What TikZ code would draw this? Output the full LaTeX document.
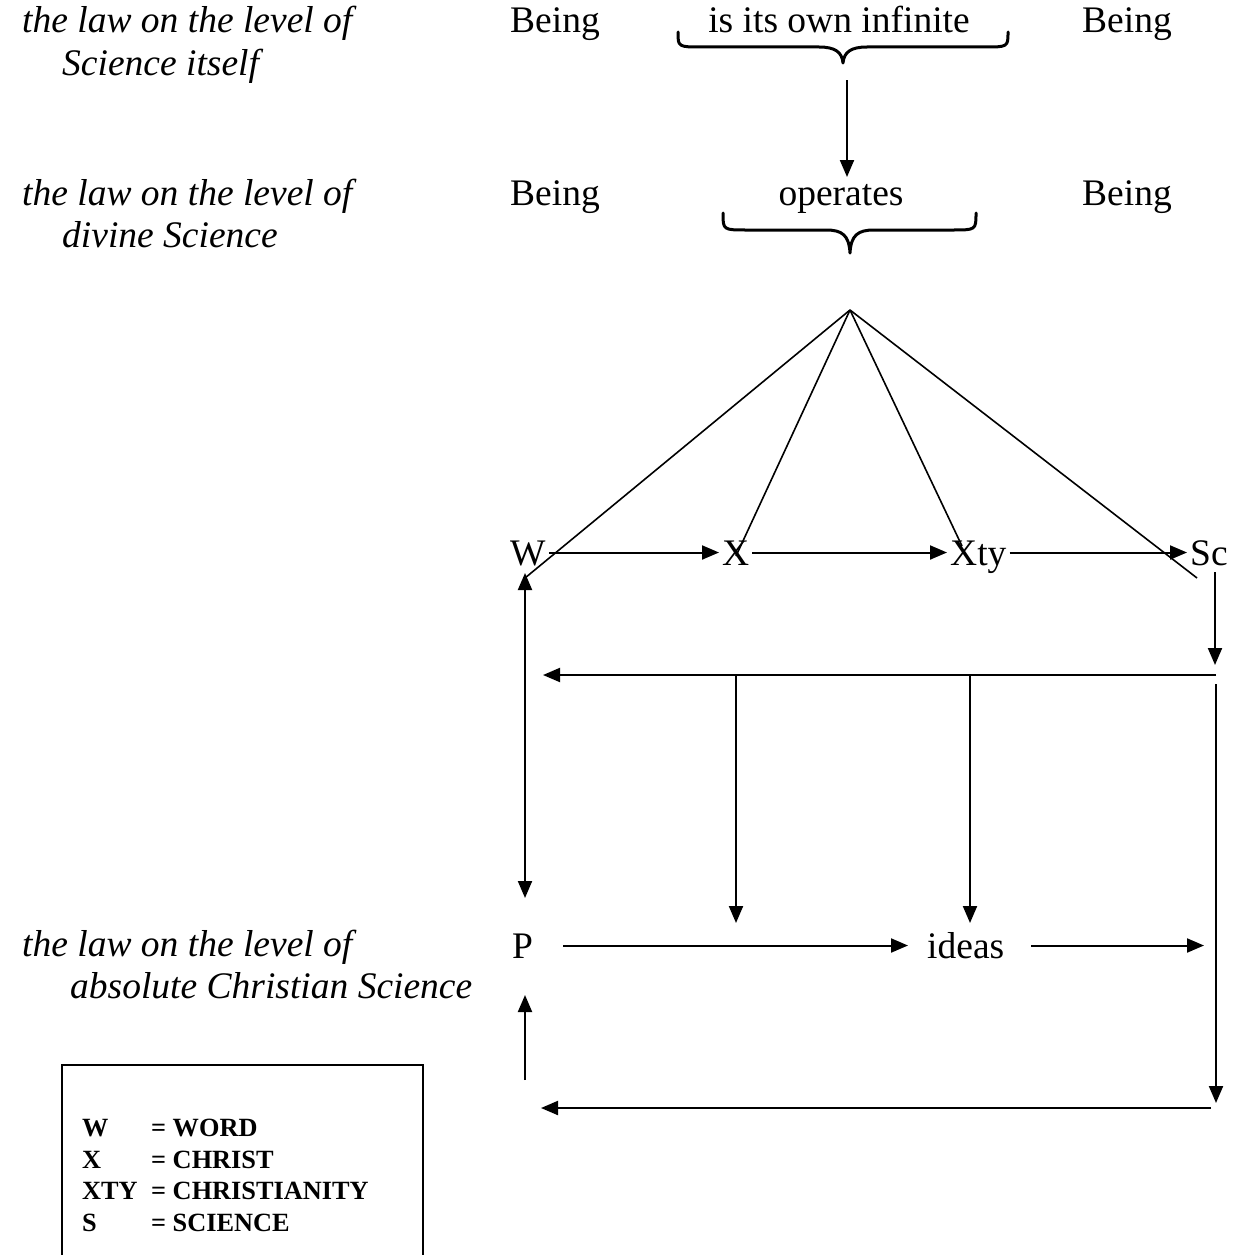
\documentclass[tikz,border=0pt]{standalone}
\usepackage{fontspec}
\setmainfont{Liberation Serif}
\usetikzlibrary{arrows.meta}
\tikzset{
  arr/.style={line width=2pt, -{Triangle[length=17pt,width=14pt]}},
  dbl/.style={line width=2pt, {Triangle[length=17pt,width=14pt]}-{Triangle[length=17pt,width=14pt]}},
  fan/.style={line width=1.6pt},
  brc/.style={line width=3pt, line join=round, line cap=round},
  txt/.style={inner sep=0pt, anchor=base west, font=\fontsize{37.5}{42}\selectfont},
  txtc/.style={inner sep=0pt, anchor=base, font=\fontsize{37.5}{42}\selectfont},
  itl/.style={inner sep=0pt, anchor=base west, font=\fontsize{37.5}{42}\selectfont\itshape},
  rowlbl/.style={inner xsep=3pt, inner ysep=0pt, text height=25pt, text depth=0pt, anchor=base west, font=\fontsize{37.5}{42}\selectfont},
  leg/.style={inner sep=0pt, anchor=base west, font=\fontsize{26.3}{30}\selectfont\bfseries},
  legbox/.style={line width=2pt},
}
\newcommand{\myubrace}[6]{% xL xR xm y0 y1 y2
  \draw[brc] (#1,#4) .. controls (#1,#5) .. ({#1+24},#5) -- ({#3-24},#5)
    .. controls ({#3-8},#5) and ({#3-1},{#5+5}) .. (#3,#6)
    .. controls ({#3+1},{#5+5}) and ({#3+8},#5) .. ({#3+24},#5) -- ({#2-24},#5)
    .. controls (#2,#5) .. (#2,#4);
}
\begin{document}
\begin{tikzpicture}[x=1pt,y=-1pt]
\useasboundingbox (0,0) rectangle (1234,1255);

% left labels
\node[itl] (lab1a) at (22,33) {the law on the level of};
\node[itl] (lab1b) at (62,75) {Science itself};
\node[itl] (lab2a) at (22,205) {the law on the level of};
\node[itl] (lab2b) at (62,247) {divine Science};
\node[itl] (lab3a) at (22,956) {the law on the level of};
\node[itl] (lab3b) at (70,998) {absolute Christian Science};

% top rows
\node[txt] (be1l) at (510,33) {Being};
\node[txtc] (inf) at (839,33) {is its own infinite};
\node[txt] (be1r) at (1082,33) {Being};
\node[txt] (be2l) at (510,205) {Being};
\node[txtc] (ops) at (841,205) {operates};
\node[txt] (be2r) at (1082,205) {Being};

% braces
\myubrace{678}{1008}{843}{32}{47}{63}
\myubrace{723}{976}{850}{213}{230}{253}
\coordinate (bt) at (847,80);
\coordinate (bb) at (847,177);
\draw[arr] (bt) -- (bb);

% W X Xty Sc row
\node[rowlbl] (W) at (507,565) {W};
\node[rowlbl] (X) at (719,565) {X};
\node[rowlbl] (Xty) at (947,565) {Xty};
\node[rowlbl] (Sc) at (1187,565) {Sc};
\draw[arr] (W.east) -- (X.west);
\draw[arr] (X.east) -- (Xty.west);
\draw[arr] (Xty.east) -- (Sc.west);

% fan
\coordinate (apex) at (850,310);
\coordinate (fW) at (525,578);
\coordinate (fX) at (736,556);
\coordinate (fXty) at (962,546);
\coordinate (fSc) at (1197,578);
\draw[fan] (apex) -- (fW);
\draw[fan] (apex) -- (fX);
\draw[fan] (apex) -- (fXty);
\draw[fan] (apex) -- (fSc);

% coordinates of the loop
\coordinate (l1) at (525,573);
\coordinate (l2) at (525,898);
\coordinate (a1) at (1215,572);
\coordinate (a2) at (1215,665);
\coordinate (h1) at (1216,675);
\coordinate (h2) at (543,675);
\coordinate (m1) at (736,675);
\coordinate (m1e) at (736,923);
\coordinate (m2) at (970,675);
\coordinate (m2e) at (970,923);
\coordinate (r1) at (1216,684);
\coordinate (r2) at (1216,1103);
\coordinate (b1) at (1211,1108);
\coordinate (b2) at (541,1108);
\coordinate (u1) at (525,1080);
\coordinate (u2) at (525,995);
\coordinate (ie) at (1204,946);

\draw[dbl] (l1) -- (l2);
\draw[arr] (a1) -- (a2);
\draw[arr] (h1) -- (h2);
\draw[arr] (m1) -- (m1e);
\draw[arr] (m2) -- (m2e);
\draw[arr] (r1) -- (r2);
\draw[arr] (b1) -- (b2);
\draw[arr] (u1) -- (u2);

% P and ideas
\node[rowlbl] (P) at (509,958) {P};
\node[rowlbl] (ideas) at (924,958) {ideas};
\draw[arr] ([xshift=27pt]P.east) -- ([xshift=-16pt]ideas.west);
\draw[arr] ([xshift=24pt]ideas.east) -- (ideas.east -| ie);

% legend
\draw[legbox] (62,1262) -- (62,1065) -- (423,1065) -- (423,1262);
\node[leg] (k1) at (82,1136) {W};
\node[leg] (v1) at (151,1136) {= WORD};
\node[leg] (k2) at (82,1168) {X};
\node[leg] (v2) at (151,1168) {= CHRIST};
\node[leg] (k3) at (82,1199) {XTY};
\node[leg] (v3) at (151,1199) {= CHRISTIANITY};
\node[leg] (k4) at (82,1231) {S};
\node[leg] (v4) at (151,1231) {= SCIENCE};
\end{tikzpicture}
\end{document}
